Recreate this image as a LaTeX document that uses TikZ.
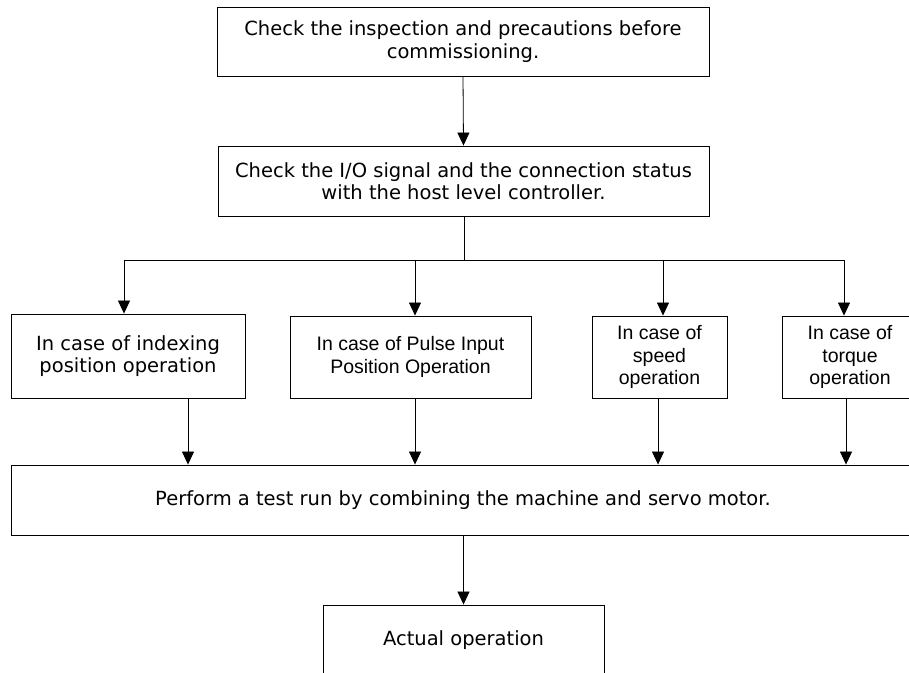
\documentclass[tikz,border=0pt]{standalone}
\usepackage{fontspec}
\setmainfont{DejaVu Sans}
\newfontfamily\arialf{Liberation Sans}
\usetikzlibrary{arrows.meta}
\begin{document}
\begin{tikzpicture}[x=1pt,y=-1pt,
  box/.style={draw, line width=0.9pt, align=center, inner sep=0pt,
    font=\fontsize{19.5}{22.5}\selectfont},
  abox/.style={box, font=\arialf\fontsize{19.5}{22.5}\selectfont},
  arr/.style={-{Triangle[width=12pt,length=13pt]}, line width=0.8pt},
  ln/.style={line width=0.8pt}]
\useasboundingbox (0,0) rectangle (909,672);
\clip (0,0) rectangle (909,672);
\fill[white] (0,0) rectangle (909,672);

\node[box, minimum width=492pt, minimum height=69pt] (b1) at (463,41.5)
  {Check the inspection and precautions before\\commissioning.};
\node[box, minimum width=491pt, minimum height=70pt] (b2) at (463.5,181)
  {Check the I/O signal and the connection status\\with the host level controller.};

\node[box, minimum width=234pt, minimum height=84pt] (ba) at (128,356)
  {In case of indexing\\position operation};
\node[abox, minimum width=241pt, minimum height=82pt] (bb) at (410.5,357)
  {In case of Pulse Input\\Position Operation};
\node[abox, minimum width=135pt, minimum height=82pt] (bc) at (659.5,357)
  {In case of\\speed\\operation};
\node[abox, minimum width=136pt, minimum height=82pt] (bd) at (850,357)
  {In case of\\torque\\operation};

\node[box, minimum width=904pt, minimum height=70pt] (big) at (463,500)
  {Perform a test run by combining the machine and servo motor.};
\node[box, minimum width=281pt, minimum height=70pt] (fin) at (463.5,640)
  {Actual operation};

% top connectors
\draw[arr] (b1.south) -- (b2.north);
\coordinate (br) at (464,260);
\coordinate (hl) at (124,260);
\coordinate (hr) at (844,260);
\draw[ln] (br |- b2.south) -- (br);
\draw[ln] (hl) -- (hr);
\coordinate (tb) at (415,260);
\coordinate (tc) at (663,260);
\draw[arr] (hl) -- (hl |- ba.north);
\draw[arr] (tb) -- (tb |- bb.north);
\draw[arr] (tc) -- (tc |- bc.north);
\draw[arr] (hr) -- (hr |- bd.north);

% lower connectors
\coordinate (la) at (188,398);
\coordinate (lb) at (415,398);
\coordinate (lc) at (658,398);
\coordinate (ld) at (846,398);
\draw[arr] (la |- ba.south) -- (la |- big.north);
\draw[arr] (lb |- bb.south) -- (lb |- big.north);
\draw[arr] (lc |- bc.south) -- (lc |- big.north);
\draw[arr] (ld |- bd.south) -- (ld |- big.north);

\draw[arr] (big.south -| fin.north) -- (fin.north);
\end{tikzpicture}
\end{document}
